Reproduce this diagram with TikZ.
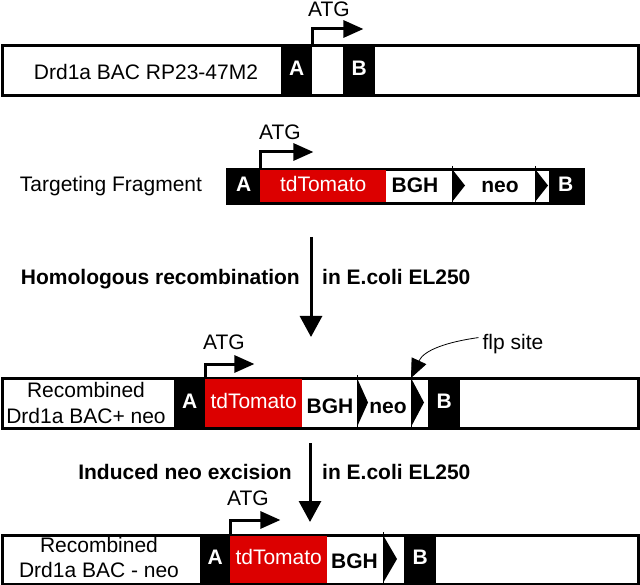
\documentclass[tikz,border=0pt]{standalone}
\usepackage{fontspec}
\setmainfont{Liberation Sans}
\usetikzlibrary{arrows.meta}
\definecolor{tomred}{RGB}{220,0,0}
\begin{document}
\begin{tikzpicture}[x=1pt,y=-1pt,
  font=\fontsize{21}{26}\selectfont,
  outer/.style={draw=black, line width=2pt, fill=white, inner sep=0pt, anchor=north west},
  border/.style={draw=black, line width=2pt},
  blk/.style={fill=black, text=white, inner sep=0pt, anchor=north west,
    font=\fontsize{21}{26}\selectfont\bfseries, text height=15pt, text depth=4pt},
  tomblk/.style={blk, fill=tomred, font=\fontsize{21}{26}\selectfont},
  lbl/.style={anchor=base, inner sep=0pt},
  blbl/.style={lbl, font=\fontsize{21}{26}\selectfont\bfseries},
  bent/.style={line width=3pt, -{Triangle[length=20pt,width=17pt]}},
  downarr/.style={line width=3pt, -{Triangle[length=21pt,width=22pt]}},
  sepline/.style={line width=1pt},
]
\useasboundingbox (0,0) rectangle (640,585);

% ---------- Row 1 ----------
\node[outer, minimum width=635pt, minimum height=49pt] (r1) at (2,45) {};
\node[blk, minimum width=31pt, minimum height=49pt] (r1A) at (281,45) {A};
\node[blk, minimum width=32pt, minimum height=49pt] (r1B) at (343,45) {B};
\draw[border] (r1.north west) rectangle (r1.south east);
\node[lbl] (r1t) at (146,80) {Drd1a BAC RP23-47M2};
\node[lbl] (r1atg) at (329,16.5) {ATG};
\draw[bent] (r1A.north east) -- ++(0,-16) -- ++(51,0);

% ---------- Row 2 ----------
\node[outer, minimum width=355pt, minimum height=33pt] (r2) at (227,169) {};
\node[blk, minimum width=33pt, minimum height=33pt] (r2A) at (227,169) {A};
\node[tomblk, minimum width=126pt, minimum height=33pt] (r2T) at (260,169) {tdTomato};
\node[blk, minimum width=33pt, minimum height=33pt] (r2B) at (549,169) {B};
\fill (452,169) -- (465,185.5) -- (452,202) -- cycle;
\draw[sepline] (452,166) -- (452,205);
\fill (535,169) -- (548,185.5) -- (535,202) -- cycle;
\draw[sepline] (535,166) -- (535,205);
\draw[border] (r2.north west) rectangle (r2.south east);
\node[blbl] (r2bgh) at (415,193) {BGH};
\node[blbl] (r2neo) at (500,193) {neo};
\node[lbl] (r2t) at (111,192) {Targeting Fragment};
\node[lbl] (r2atg) at (280,139.5) {ATG};
\draw[bent] (r2A.north east) -- ++(0,-17) -- ++(53,0);

% ---------- Step 1 ----------
\coordinate (v1s) at (311,237);
\coordinate (v1e) at (311,337);
\draw[downarr] (v1s) -- (v1e);
\node[blbl, anchor=base east] (h1) at (300,284.5) {Homologous recombination};
\node[blbl, anchor=base west] (h2) at (322,284.5) {in E.coli EL250};

% ---------- Row 3 ----------
\node[outer, minimum width=635pt, minimum height=49pt] (r3) at (2,378) {};
\node[blk, minimum width=31pt, minimum height=49pt] (r3A) at (174,378) {A};
\node[tomblk, minimum width=97pt, minimum height=49pt] (r3T) at (205,378) {tdTomato};
\node[blk, minimum width=32pt, minimum height=49pt] (r3B) at (428,378) {B};
\fill (357,378) -- (368,402.5) -- (357,427) -- cycle;
\draw[sepline] (357,375) -- (357,430);
\fill (411,378) -- (424,402.5) -- (411,427) -- cycle;
\draw[sepline] (411,375) -- (411,430);
\draw[border] (r3.north west) rectangle (r3.south east);
\node[blbl] (r3bgh) at (330,413) {BGH};
\node[blbl] (r3neo) at (388,413) {neo};
\node[lbl] (r3t1) at (86,397) {Recombined};
\node[lbl] (r3t2) at (86,423) {Drd1a BAC+ neo};
\node[lbl] (r3atg) at (224,349.5) {ATG};
\draw[bent] (r3A.north east) -- ++(0,-14) -- ++(49,0);
\node[lbl] (flp) at (513,349) {flp site};
\coordinate (flpend) at (411,378);
\draw[line width=0.8pt, -{Triangle[length=19pt,width=16pt]}]
  (flp.west) ++(-4,-6) .. controls (447,342) and (424,350) .. (flpend);

% ---------- Step 2 ----------
\coordinate (v2s) at (310,443);
\coordinate (v2e) at (310,522);
\draw[downarr] (v2s) -- (v2e);
\node[blbl, anchor=base east] (i1) at (292,479) {Induced neo excision};
\node[blbl, anchor=base west] (i2) at (322,479) {in E.coli EL250};

% ---------- Row 4 ----------
\node[outer, minimum width=635pt, minimum height=48pt] (r4) at (2,535) {};
\node[blk, minimum width=30pt, minimum height=48pt] (r4A) at (200,535) {A};
\node[tomblk, minimum width=97pt, minimum height=48pt] (r4T) at (230,535) {tdTomato};
\node[blk, minimum width=32pt, minimum height=48pt] (r4B) at (404,535) {B};
\fill (383,535) -- (397,559) -- (383,583) -- cycle;
\draw[sepline] (383,532) -- (383,586);
\draw[border] (r4.north west) rectangle (r4.south east);
\node[blbl] (r4bgh) at (354.5,568) {BGH};
\node[lbl] (r4t1) at (99,552) {Recombined};
\node[lbl] (r4t2) at (99,577) {Drd1a BAC - neo};
\node[lbl] (r4atg) at (248,505.5) {ATG};
\draw[bent] (r4A.north east) -- ++(0,-15) -- ++(50,0);
\end{tikzpicture}
\end{document}
